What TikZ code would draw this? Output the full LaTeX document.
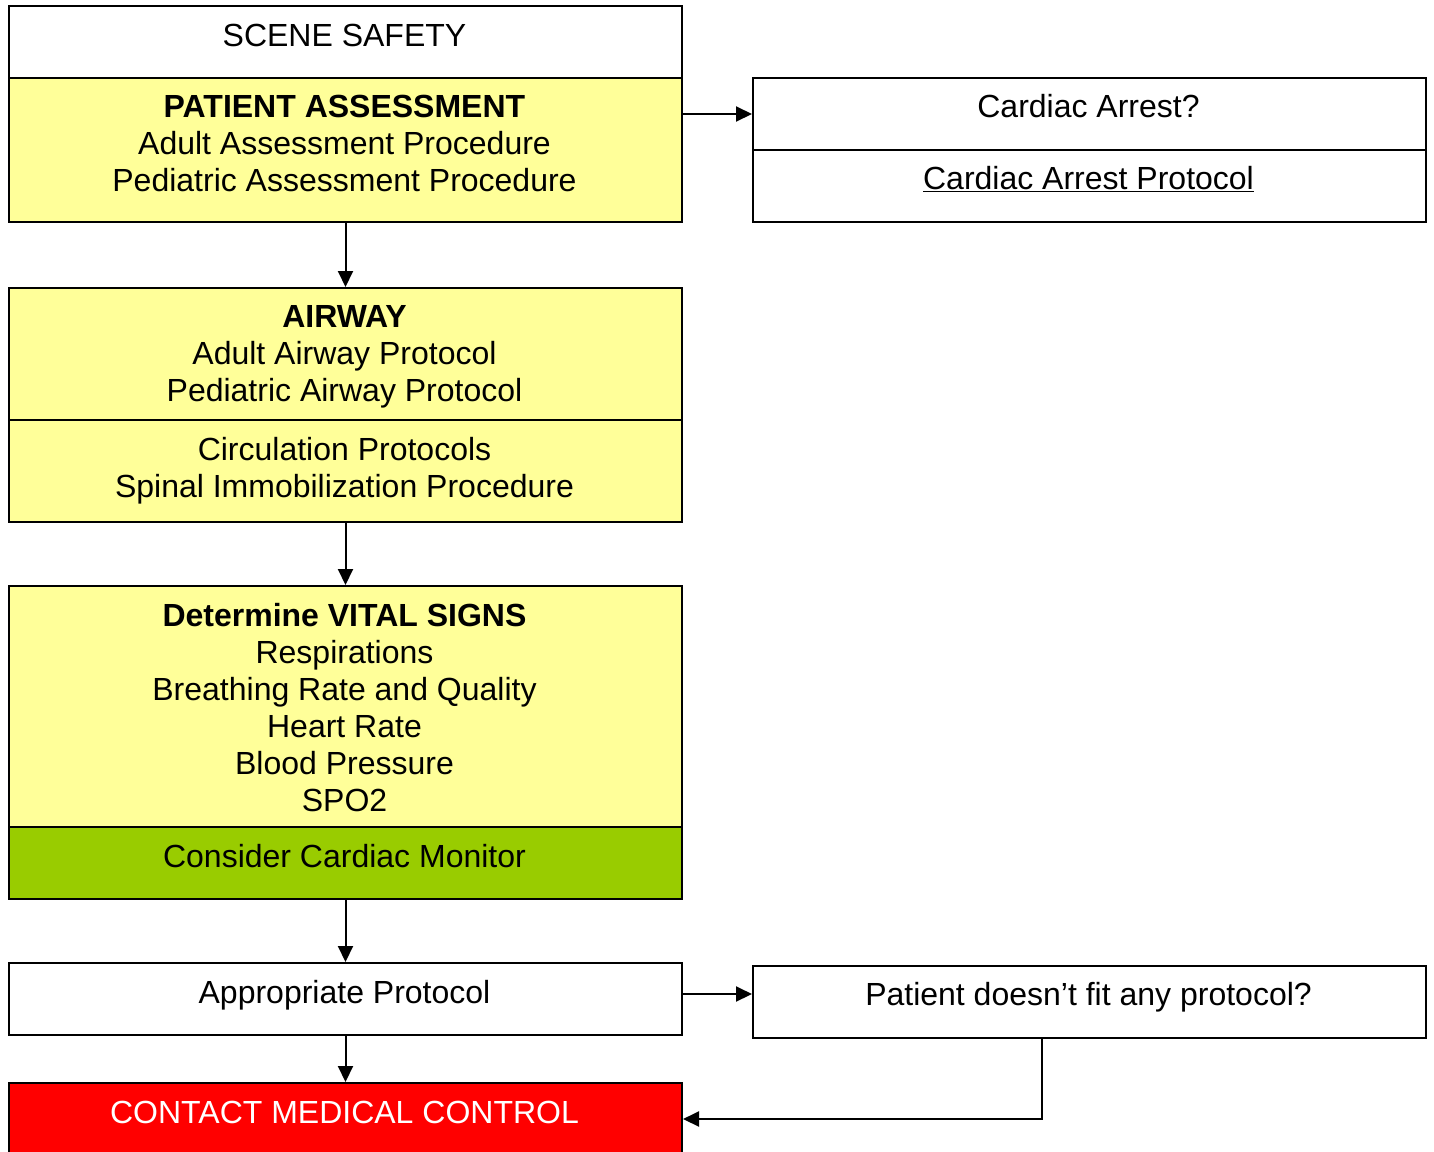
\documentclass[tikz,border=0pt]{standalone}
\usepackage{fontspec}
\setmainfont{Liberation Sans}
\usetikzlibrary{arrows.meta}
\definecolor{boxyellow}{HTML}{FFFF99}
\definecolor{boxgreen}{HTML}{99CC00}
\definecolor{boxred}{HTML}{FF0000}
\begin{document}
\begin{tikzpicture}[x=1pt,y=-1pt,
  box/.style={draw=black,line width=2pt,anchor=north west,inner sep=0pt,minimum width=673pt},
  txt/.style={anchor=base,align=center,inner sep=0pt,font=\fontsize{32}{37}\selectfont},
  arr/.style={-{Triangle[length=16pt,width=15pt]},line width=2pt}]
\useasboundingbox (0,0) rectangle (1434,1151);
% left column boxes
\node[box,fill=white,minimum height=72pt] (ss) at (8,5) {};
\node[box,fill=boxyellow,minimum height=144pt] (pa) at (8,77) {};
\node[box,fill=boxyellow,minimum height=132pt] (aw) at (8,287) {};
\node[box,fill=boxyellow,minimum height=102pt] (ci) at (8,419) {};
\node[box,fill=boxyellow,minimum height=241pt] (vs) at (8,585) {};
\node[box,fill=boxgreen,minimum height=72pt] (cm) at (8,826) {};
\node[box,fill=white,minimum height=72pt] (ap) at (8,962) {};
\node[box,fill=boxred,minimum height=72pt] (cmc) at (8,1082) {};
% right column boxes
\node[box,fill=white,minimum height=72pt] (ca) at (752,77) {};
\node[box,fill=white,minimum height=72pt] (cap) at (752,149) {};
\node[box,fill=white,minimum height=72pt] (pd) at (752,965) {};
% texts (anchor = baseline of the last line)
\node[txt] (tss) at (344.5,46) {SCENE SAFETY};
\node[txt] (tpa) at (344.5,191) {\textbf{PATIENT ASSESSMENT}\\Adult Assessment Procedure\\Pediatric Assessment Procedure};
\node[txt] (taw) at (344.5,401) {\textbf{AIRWAY}\\Adult Airway Protocol\\Pediatric Airway Protocol};
\node[txt] (tci) at (344.5,497) {Circulation Protocols\\Spinal Immobilization Procedure};
\node[txt] (tvs) at (344.5,811) {\textbf{Determine VITAL SIGNS}\\Respirations\\Breathing Rate and Quality\\Heart Rate\\Blood Pressure\\SPO2};
\node[txt] (tcm) at (344.5,867) {Consider Cardiac Monitor};
\node[txt] (tap) at (344.5,1003) {Appropriate Protocol};
\node[txt,text=white] (tcmc) at (344.5,1123) {CONTACT MEDICAL CONTROL};
\node[txt] (tca) at (1088.5,117) {Cardiac Arrest?};
\node[txt] (tcap) at (1088.5,189) {\underline{Cardiac Arrest Protocol}};
\node[txt] (tpd) at (1088.5,1005) {Patient doesn’t fit any protocol?};
% connectors
\draw[arr] (ca.west -| pa.east) -- (ca.west);
\draw[arr] (pa.south) -- (aw.north);
\draw[arr] (ci.south) -- (vs.north);
\draw[arr] (cm.south) -- (ap.north);
\draw[arr] ([yshift=5pt]ap.east) -- ([yshift=5pt]ap.east -| pd.west);
\draw[arr] (ap.south) -- (cmc.north);
\draw[arr] ([xshift=-48pt]pd.south) |- (cmc.east);
\end{tikzpicture}
\end{document}
